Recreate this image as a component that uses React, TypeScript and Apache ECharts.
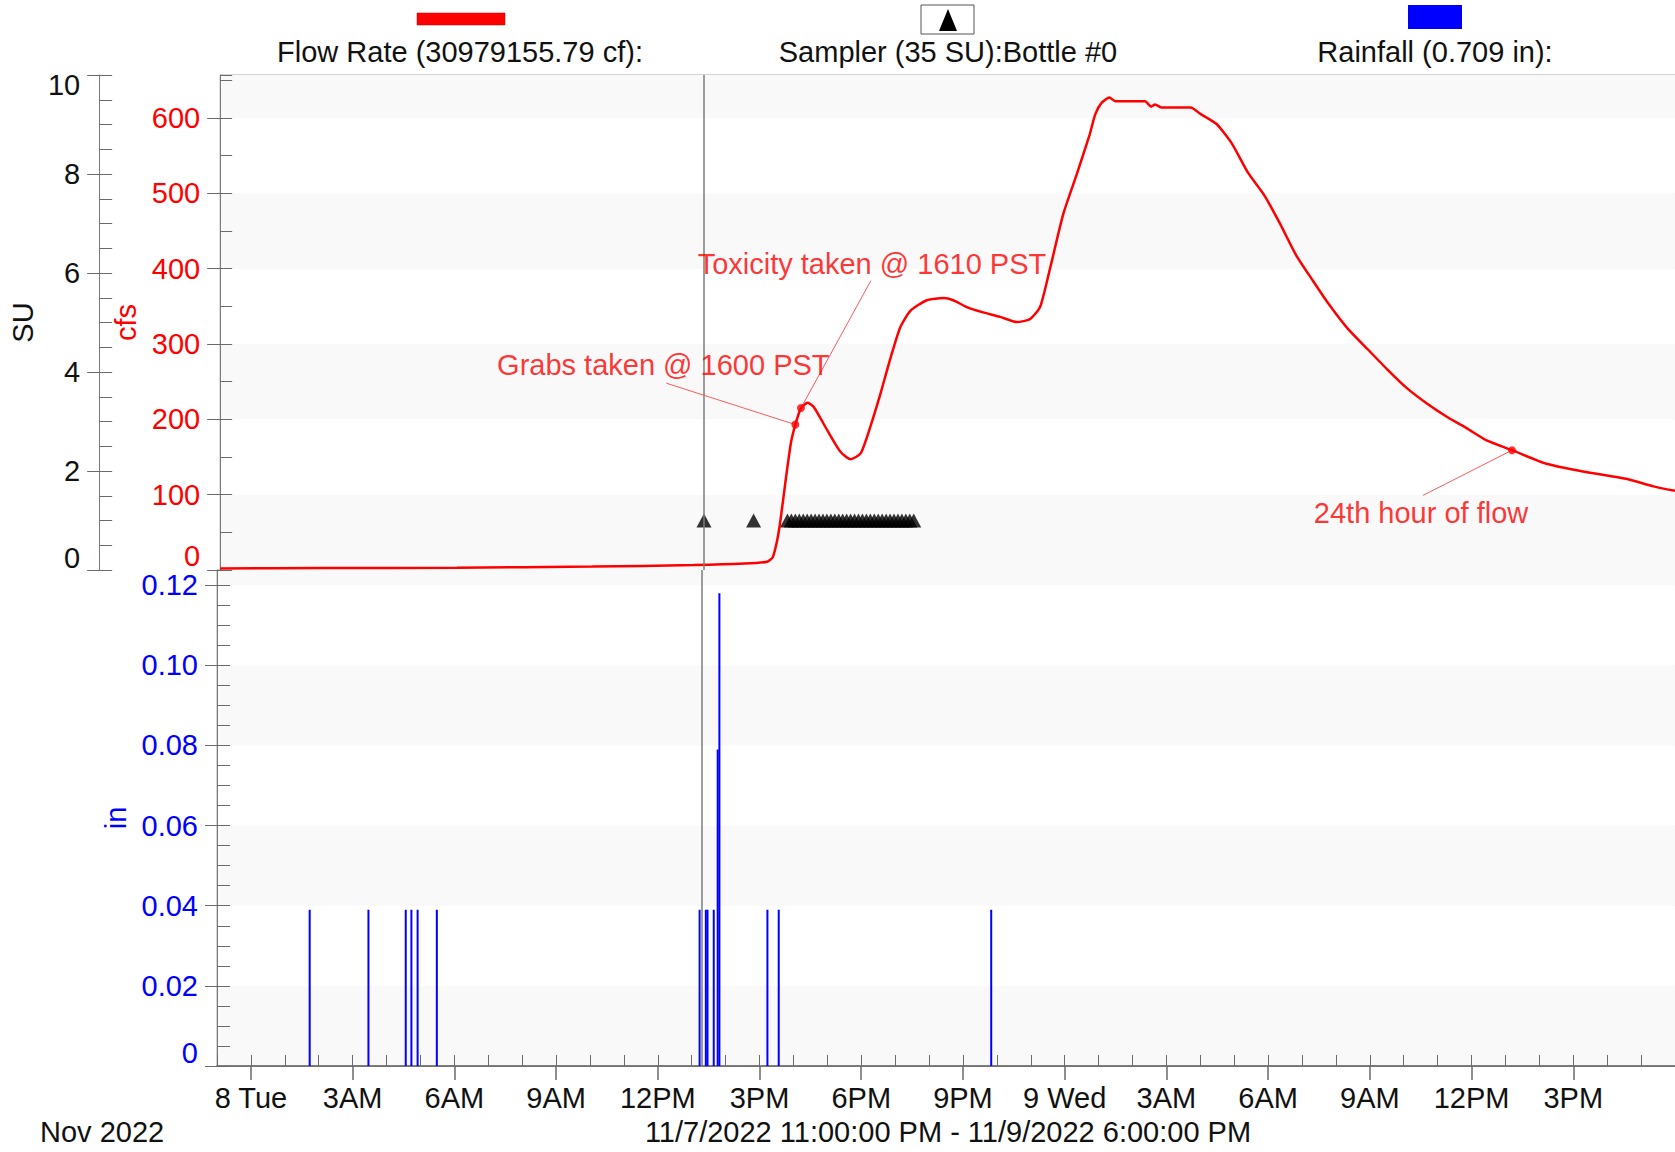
import React, { useEffect, useRef } from 'react';
import * as echarts from 'echarts';

const FONT = '"Liberation Sans", Arial, Helvetica, sans-serif';

// ---------- data ----------
const flowTimes = [
  '2022-11-07 23:00', '2022-11-08 02:00', '2022-11-08 06:00', '2022-11-08 10:00', '2022-11-08 13:00',
  '2022-11-08 14:30', '2022-11-08 15:10', '2022-11-08 15:20', '2022-11-08 15:28', '2022-11-08 15:34',
  '2022-11-08 15:43', '2022-11-08 15:52', '2022-11-08 16:00', '2022-11-08 16:10', '2022-11-08 16:22',
  '2022-11-08 16:33', '2022-11-08 16:57', '2022-11-08 17:20', '2022-11-08 17:38', '2022-11-08 17:56',
  '2022-11-08 18:13', '2022-11-08 18:31', '2022-11-08 18:49', '2022-11-08 19:06', '2022-11-08 19:24',
  '2022-11-08 19:53', '2022-11-08 20:23', '2022-11-08 20:40', '2022-11-08 21:04', '2022-11-08 21:33',
  '2022-11-08 22:03', '2022-11-08 22:33', '2022-11-08 22:56', '2022-11-08 23:14', '2022-11-08 23:31',
  '2022-11-08 23:55', '2022-11-09 00:19', '2022-11-09 00:42', '2022-11-09 00:52', '2022-11-09 01:03',
  '2022-11-09 01:17', '2022-11-09 01:28', '2022-11-09 02:20', '2022-11-09 02:31', '2022-11-09 02:38',
  '2022-11-09 02:49', '2022-11-09 03:41', '2022-11-09 03:59', '2022-11-09 04:27', '2022-11-09 04:55',
  '2022-11-09 05:23', '2022-11-09 05:52', '2022-11-09 06:20', '2022-11-09 06:48', '2022-11-09 07:16',
  '2022-11-09 07:44', '2022-11-09 08:20', '2022-11-09 08:55', '2022-11-09 09:30', '2022-11-09 10:05',
  '2022-11-09 10:40', '2022-11-09 11:16', '2022-11-09 11:51', '2022-11-09 12:26', '2022-11-09 13:11',
  '2022-11-09 14:12', '2022-11-09 15:22', '2022-11-09 16:33', '2022-11-09 17:22', '2022-11-09 18:00',
];
const flowValues = [
  2, 2.5, 3, 4.5, 6.5,
  8.5, 11, 17, 40, 68,
  120, 168, 193, 215, 222,
  216, 185, 157, 147, 155,
  190, 234, 282, 322, 344,
  358, 361, 358, 349, 342,
  336, 329, 333, 349, 398,
  472, 525, 578, 605, 620,
  627, 622, 622, 615, 618,
  614, 614, 605, 592, 565,
  527, 497, 459, 418, 386,
  355, 320, 293, 266, 241,
  221, 203, 188, 172, 159,
  141, 130, 121, 111, 105,
];

const rainTimes = [
  '2022-11-08 01:44', '2022-11-08 03:28', '2022-11-08 04:34', '2022-11-08 04:44', '2022-11-08 04:55',
  '2022-11-08 05:29', '2022-11-08 13:14', '2022-11-08 13:25', '2022-11-08 13:28', '2022-11-08 13:39',
  '2022-11-08 13:46', '2022-11-08 13:49', '2022-11-08 15:14', '2022-11-08 15:34', '2022-11-08 21:50',
];
const rainValues = [
  0.039, 0.039, 0.039, 0.039, 0.039,
  0.039, 0.039, 0.039, 0.039, 0.039,
  0.079, 0.118, 0.039, 0.039, 0.039,
];

const samplerTimes = [
  '2022-11-08 13:18', '2022-11-08 14:46',
  '2022-11-08 15:46', '2022-11-08 15:53', '2022-11-08 16:00', '2022-11-08 16:07', '2022-11-08 16:14',
  '2022-11-08 16:21', '2022-11-08 16:28', '2022-11-08 16:35', '2022-11-08 16:42', '2022-11-08 16:49',
  '2022-11-08 16:56', '2022-11-08 17:03', '2022-11-08 17:10', '2022-11-08 17:17', '2022-11-08 17:24',
  '2022-11-08 17:31', '2022-11-08 17:38', '2022-11-08 17:45', '2022-11-08 17:52', '2022-11-08 17:59',
  '2022-11-08 18:06', '2022-11-08 18:13', '2022-11-08 18:20', '2022-11-08 18:27', '2022-11-08 18:34',
  '2022-11-08 18:41', '2022-11-08 18:48', '2022-11-08 18:55', '2022-11-08 19:02', '2022-11-08 19:09',
  '2022-11-08 19:16', '2022-11-08 19:23', '2022-11-08 19:30',
];
const samplerValues = [
  1, 1,
  1, 1, 1, 1, 1, 1, 1, 1, 1, 1,
  1, 1, 1, 1, 1, 1, 1, 1, 1, 1,
  1, 1, 1, 1, 1, 1, 1, 1, 1, 1,
  1, 1, 1,
];

const cursorTime = '2022-11-08 13:18';

const annotationTimes = ['2022-11-08 16:00', '2022-11-08 16:10', '2022-11-09 13:11'];
const annotationLabels = ['Grabs taken @ 1600 PST', 'Toxicity taken @ 1610 PST', '24th hour of flow'];
const annotationLeaderFrom: [string, number][] = [
  ['2022-11-08 12:11', 248],
  ['2022-11-08 18:14', 384],
  ['2022-11-09 10:33', 99],
];

const majorTickTimes = [
  '2022-11-08 00:00', '2022-11-08 03:00', '2022-11-08 06:00', '2022-11-08 09:00', '2022-11-08 12:00',
  '2022-11-08 15:00', '2022-11-08 18:00', '2022-11-08 21:00', '2022-11-09 00:00', '2022-11-09 03:00',
  '2022-11-09 06:00', '2022-11-09 09:00', '2022-11-09 12:00', '2022-11-09 15:00',
];
const majorTickLabels = [
  '8 Tue', '3AM', '6AM', '9AM', '12PM', '3PM', '6PM', '9PM', '9 Wed', '3AM', '6AM', '9AM', '12PM', '3PM',
];

const rangeStart = '2022-11-07 23:00';
const rangeEnd = '2022-11-09 18:00';

const legendFlow = 'Flow Rate (30979155.79 cf):';
const legendSampler = 'Sampler (35 SU):Bottle #0';
const legendRain = 'Rainfall (0.709 in):';
const monthLabel = 'Nov 2022';
const rangeLabel = '11/7/2022 11:00:00 PM - 11/9/2022 6:00:00 PM';

// ---------- helpers ----------
const toMs = (s: string) => new Date(s.replace(' ', 'T') + ':00').getTime();

const RED = '#ff0000';
const BLUE = '#0000ff';
const FS = 29;

function buildOption() {
  const xMin = toMs(rangeStart);
  const xMax = toMs(rangeEnd);
  const majorVals = majorTickTimes.map(toMs);
  const hourVals: number[] = [];
  for (let v = xMin; v <= xMax; v += 3600 * 1000) hourVals.push(v);

  const flowData = flowTimes.map((t, i) => [toMs(t), flowValues[i]]);
  const rainData = rainTimes.map((t, i) => [toMs(t), rainValues[i]]);
  const samplerData = samplerTimes.map((t, i) => [toMs(t), samplerValues[i]]);

  const offsets: [number, number][] = [[-132, -60], [71, -144], [-91, 63]];
  const annData = annotationTimes.map((t, i) => ({
    name: annotationLabels[i],
    value: [toMs(t), flowValues[flowTimes.indexOf(t)]],
    label: { offset: offsets[i] },
  }));
  const leaders = annotationTimes.map((t, i) => [
    { coord: [toMs(annotationLeaderFrom[i][0]), annotationLeaderFrom[i][1]] },
    { coord: [toMs(t), flowValues[flowTimes.indexOf(t)]] },
  ]);

  const cursorMark = {
    silent: true,
    symbol: ['none', 'none'],
    label: { show: false },
    lineStyle: { color: '#7d7d7d', width: 1.5, type: 'solid' },
    data: [{ xAxis: toMs(cursorTime) }],
  };

  const hidden = { show: false };
  const tickColor = '#6a6a6a';
  const lineColor = '#7a7a7a';

  const baseX = { type: 'value', min: xMin, max: xMax, position: 'bottom', splitLine: hidden };

  const richFor = (color: string, shiftUp: number, shiftDown = 0) => ({
    lo: { fontSize: FS, fontFamily: FONT, color, padding: [0, 0, shiftUp * 2, 0] },
    hi: { fontSize: FS, fontFamily: FONT, color, padding: [shiftDown * 2, 0, 0, 0] },
  });

  return {
    animation: false,
    backgroundColor: '#ffffff',
    textStyle: { fontFamily: FONT },
    grid: [
      { left: 217, top: 75, right: -2, height: 495, show: true, borderColor: '#a8a8a8', borderWidth: 1 },
      { left: 217, top: 570, right: -2, height: 496, show: true, borderColor: '#a8a8a8', borderWidth: 1 },
    ],
    xAxis: [
      { ...baseX, gridIndex: 0, axisLine: hidden, axisTick: hidden, axisLabel: hidden },
      {
        ...baseX,
        gridIndex: 1,
        axisLine: { show: true, onZero: false, lineStyle: { color: '#555', width: 1.5 } },
        axisTick: { show: true, customValues: majorVals, length: 14, lineStyle: { color: tickColor, width: 1.5 } },
        axisLabel: {
          show: true,
          customValues: majorVals,
          fontSize: FS,
          color: '#111',
          margin: 17,
          formatter: (v: number) => {
            const i = majorVals.indexOf(v);
            return i >= 0 ? majorTickLabels[i] : '';
          },
        },
      },
      {
        ...baseX,
        gridIndex: 1,
        axisLine: { show: false, onZero: false },
        axisTick: { show: true, inside: true, customValues: hourVals, length: 11, lineStyle: { color: tickColor } },
        axisLabel: hidden,
      },
    ],
    yAxis: [
      {
        gridIndex: 0, type: 'value', position: 'left', offset: 121, min: 0, max: 10, interval: 2,
        name: 'SU', nameLocation: 'middle', nameGap: 60, nameRotate: 90,
        nameTextStyle: { fontSize: FS, color: '#111', fontFamily: FONT },
        axisLine: { show: true, lineStyle: { color: lineColor } },
        axisTick: { show: true, length: 12, lineStyle: { color: tickColor } },
        axisLabel: {
          fontSize: FS, color: '#111', margin: 19,
          formatter: (v: number) => (v === 0 ? '{lo|0}' : v === 10 ? '{hi|10}' : String(v)),
          rich: richFor('#111', 12, 10),
        },
        splitLine: hidden,
      },
      {
        gridIndex: 0, type: 'value', position: 'left', offset: 121, min: 0, max: 10, interval: 0.5,
        axisLine: hidden, axisTick: { show: true, inside: true, length: 13, lineStyle: { color: tickColor } },
        axisLabel: hidden, splitLine: hidden,
      },
      {
        gridIndex: 0, type: 'value', position: 'left', offset: 0, min: 0, max: 657, interval: 100,
        name: 'cfs', nameLocation: 'middle', nameGap: 76, nameRotate: 90,
        nameTextStyle: { fontSize: FS, color: RED, fontFamily: FONT },
        axisLine: { show: true, lineStyle: { color: lineColor } },
        axisTick: { show: true, length: 13, lineStyle: { color: tickColor } },
        axisLabel: {
          fontSize: FS, color: RED, margin: 20, showMaxLabel: false,
          formatter: (v: number) => (v === 0 ? '{lo|0}' : String(v)),
          rich: richFor(RED, 14),
        },
        splitLine: hidden,
        splitArea: { show: true, areaStyle: { color: ['#f9f9f9', '#ffffff'] } },
      },
      {
        gridIndex: 0, type: 'value', position: 'left', offset: 0, min: 0, max: 657, interval: 50,
        axisLine: hidden, axisTick: { show: true, inside: true, length: 12, lineStyle: { color: tickColor } },
        axisLabel: hidden, splitLine: hidden,
      },
      {
        gridIndex: 1, type: 'value', position: 'left', offset: 0, min: 0, max: 0.1238, interval: 0.02,
        name: 'in', nameLocation: 'middle', nameGap: 82, nameRotate: 90,
        nameTextStyle: { fontSize: FS, color: BLUE, fontFamily: FONT },
        axisLine: { show: true, lineStyle: { color: lineColor } },
        axisTick: { show: true, length: 12, lineStyle: { color: tickColor } },
        axisLabel: {
          fontSize: FS, color: BLUE, margin: 19, showMaxLabel: false,
          formatter: (v: number) => (v === 0 ? '{lo|0}' : v.toFixed(2)),
          rich: richFor(BLUE, 13),
        },
        splitLine: hidden,
        splitArea: { show: true, areaStyle: { color: ['#f9f9f9', '#ffffff'] } },
      },
      {
        gridIndex: 1, type: 'value', position: 'left', offset: 0, min: 0, max: 0.1238, interval: 0.005,
        axisLine: hidden, axisTick: { show: true, inside: true, length: 13, lineStyle: { color: tickColor } },
        axisLabel: hidden, splitLine: hidden,
      },
    ],
    series: [
      {
        type: 'line', name: 'Flow Rate', xAxisIndex: 0, yAxisIndex: 2, data: flowData,
        showSymbol: false, smooth: 0.2, z: 4,
        lineStyle: { color: RED, width: 2.5 }, itemStyle: { color: RED },
        markLine: cursorMark,
      },
      {
        type: 'scatter', name: 'Sampler', xAxisIndex: 0, yAxisIndex: 0, data: samplerData,
        symbol: 'triangle', symbolSize: [15, 14], itemStyle: { color: '#000' }, z: 3,
      },
      {
        type: 'scatter', name: 'Notes', xAxisIndex: 0, yAxisIndex: 2, data: annData,
        symbolSize: 8, itemStyle: { color: RED }, z: 5,
        label: { show: true, position: 'inside', formatter: '{b}', color: RED, fontSize: FS, fontFamily: FONT },
        markLine: {
          silent: true, symbol: ['none', 'none'], label: { show: false },
          lineStyle: { color: '#ff5a5a', width: 1, type: 'solid' },
          data: leaders,
        },
      },
      {
        type: 'bar', name: 'Rainfall', xAxisIndex: 1, yAxisIndex: 4, data: rainData,
        barWidth: 2, itemStyle: { color: BLUE }, z: 3,
      },
      {
        type: 'line', name: 'Cursor', xAxisIndex: 1, yAxisIndex: 4, data: [],
        showSymbol: false, lineStyle: { opacity: 0 }, z: 2,
        markLine: cursorMark,
      },
    ],
    graphic: [
      { type: 'rect', shape: { x: 417, y: 13, width: 88, height: 12 }, style: { fill: RED, stroke: '#c00000', lineWidth: 0.5 } },
      { type: 'text', x: 460, y: 52, style: { text: legendFlow, fontSize: FS, fontFamily: FONT, fill: '#111', align: 'center', verticalAlign: 'middle' } },
      { type: 'rect', shape: { x: 921, y: 5, width: 53, height: 29 }, style: { fill: '#fff', stroke: '#555', lineWidth: 1 } },
      { type: 'polygon', shape: { points: [[948, 9], [939, 31], [957, 31]] }, style: { fill: '#000' } },
      { type: 'text', x: 948, y: 52, style: { text: legendSampler, fontSize: FS, fontFamily: FONT, fill: '#111', align: 'center', verticalAlign: 'middle' } },
      { type: 'rect', shape: { x: 1408, y: 5, width: 54, height: 24 }, style: { fill: BLUE } },
      { type: 'text', x: 1435, y: 52, style: { text: legendRain, fontSize: FS, fontFamily: FONT, fill: '#111', align: 'center', verticalAlign: 'middle' } },
      { type: 'text', x: 40, y: 1132, style: { text: monthLabel, fontSize: FS, fontFamily: FONT, fill: '#111', align: 'left', verticalAlign: 'middle' } },
      { type: 'text', x: 948, y: 1132, style: { text: rangeLabel, fontSize: FS, fontFamily: FONT, fill: '#111', align: 'center', verticalAlign: 'middle' } },
    ],
  };
}

export default function App() {
  const ref = useRef<HTMLDivElement>(null);
  useEffect(() => {
    document.body.style.margin = '0';
    if (!ref.current) return;
    const chart = echarts.init(ref.current, undefined, { renderer: 'svg' });
    chart.setOption(buildOption() as any);
    return () => chart.dispose();
  }, []);
  return <div ref={ref} style={{ width: 1675, height: 1152 }} />;
}
